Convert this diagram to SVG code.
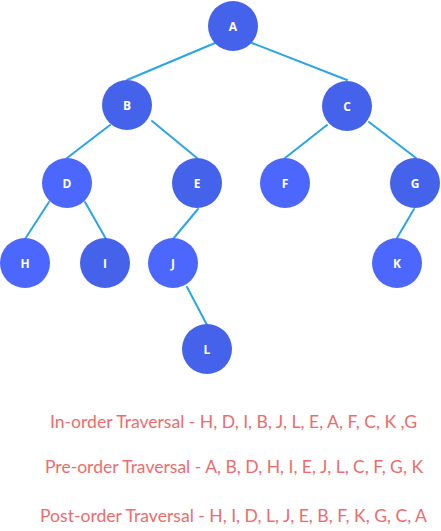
<svg xmlns="http://www.w3.org/2000/svg" width="441" height="531" viewBox="0 0 441 531">
<style>
.edge{stroke:#2AA6E6;stroke-width:2;fill:none;stroke-linecap:round}
.n1{fill:#4B67FD}
.n2{fill:#4562EA}
.lbl{fill:#FFFFFF;font-family:"Open Sans","DejaVu Sans",sans-serif;font-weight:700;font-size:12px;text-anchor:middle}
.trav{fill:#EE6C6C;font-family:Lato,"Liberation Sans",sans-serif;font-size:17px}
</style>
<rect width="441" height="531" fill="#FFFFFF"/>
<g id="connectors">
<line class="edge" x1="215" y1="43" x2="127" y2="80"/>
<line class="edge" x1="252" y1="43" x2="347" y2="80"/>
<line class="edge" x1="110" y1="125" x2="67" y2="158"/>
<line class="edge" x1="152" y1="121" x2="197" y2="158"/>
<line class="edge" x1="327" y1="125" x2="285" y2="158"/>
<line class="edge" x1="369" y1="122" x2="416" y2="158"/>
<line class="edge" x1="49" y1="202" x2="25" y2="239"/>
<line class="edge" x1="85" y1="202" x2="106" y2="239"/>
<line class="edge" x1="198" y1="209" x2="173" y2="239"/>
<line class="edge" x1="187" y1="287" x2="207" y2="325"/>
<line class="edge" x1="414" y1="209" x2="397" y2="238"/>
</g>
<g id="node-A"><circle class="n2" cx="233" cy="26" r="25"/><text class="lbl" x="233" y="30.5">A</text></g>
<g id="node-B"><circle class="n2" cx="127" cy="105" r="25"/><text class="lbl" x="127" y="109.5">B</text></g>
<g id="node-C"><circle class="n2" cx="347" cy="106" r="25"/><text class="lbl" x="347" y="110.5">C</text></g>
<g id="node-D"><circle class="n1" cx="67" cy="183" r="25"/><text class="lbl" x="67" y="187.5">D</text></g>
<g id="node-E"><circle class="n2" cx="197" cy="183" r="25"/><text class="lbl" x="197" y="187.5">E</text></g>
<g id="node-F"><circle class="n1" cx="285" cy="183" r="25"/><text class="lbl" x="285" y="187.5">F</text></g>
<g id="node-G"><circle class="n2" cx="415" cy="183" r="25"/><text class="lbl" x="415" y="187.5">G</text></g>
<g id="node-H"><circle class="n1" cx="25" cy="263" r="25"/><text class="lbl" x="25" y="267.5">H</text></g>
<g id="node-I"><circle class="n2" cx="105" cy="263" r="25"/><text class="lbl" x="105" y="267.5">I</text></g>
<g id="node-J"><circle class="n1" cx="173" cy="263" r="25"/><text class="lbl" x="173" y="267.5">J</text></g>
<g id="node-K"><circle class="n1" cx="397" cy="263" r="25"/><text class="lbl" x="397" y="267.5">K</text></g>
<g id="node-L"><circle class="n2" cx="207" cy="349" r="25"/><text class="lbl" x="207" y="353.5">L</text></g>
<g id="traversals">
<text class="trav" x="50" y="427.5" textLength="367" lengthAdjust="spacingAndGlyphs">In-order Traversal - H, D, I, B, J, L, E, A, F, C, K ,G</text>
<text class="trav" x="45" y="473" textLength="378" lengthAdjust="spacingAndGlyphs">Pre-order Traversal - A, B, D, H, I, E, J, L, C, F, G, K</text>
<text class="trav" x="40" y="521.5" textLength="387" lengthAdjust="spacingAndGlyphs">Post-order Traversal - H, I, D, L, J, E, B, F, K, G, C, A</text>
</g>
</svg>
